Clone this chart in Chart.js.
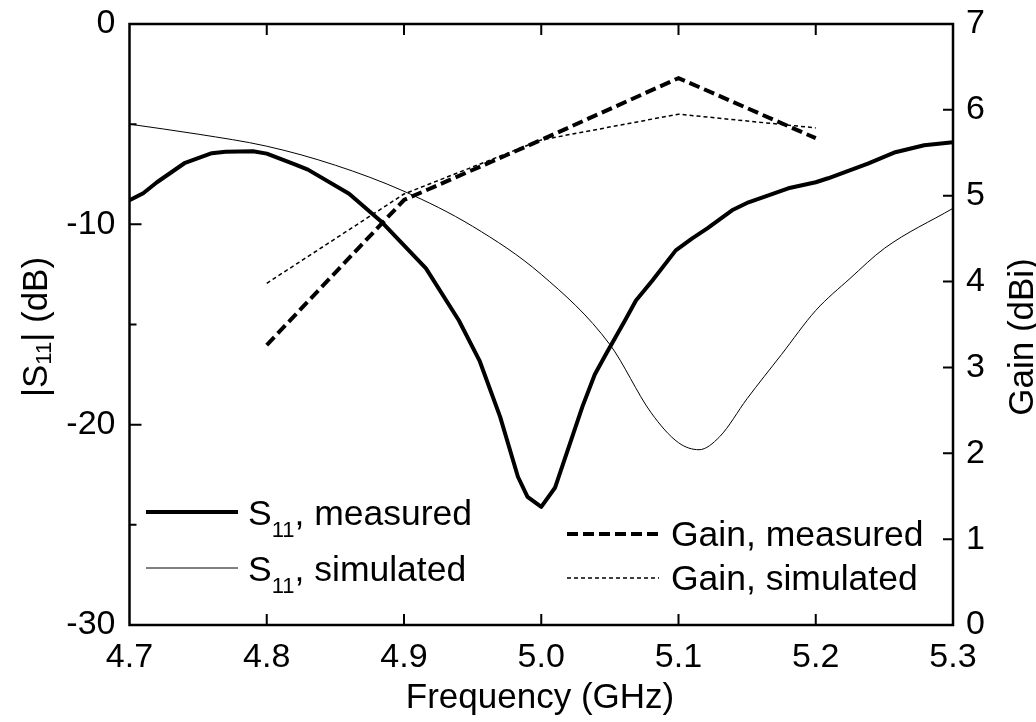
<!DOCTYPE html>
<html>
<head>
<meta charset="utf-8">
<script src="https://cdn.jsdelivr.net/npm/chart.js@4.4.0/dist/chart.umd.min.js"></script>
<style>
	html,body{margin:0;padding:0;background:#fff;}
	#wrap{width:1036px;height:722px;position:relative;}
</style>
</head>
<body>
<div id="wrap"><canvas id="chart" width="1036" height="722"></canvas></div>
<script>
// --- dados ---
const s11MeasFreq = [4.700,4.710,4.720,4.740,4.760,4.770,4.790,4.800,4.820,4.830,4.860,4.884,4.916,4.940,4.955,4.970,4.983,4.990,5.000,5.010,5.030,5.039,5.047,5.061,5.069,5.081,5.098,5.110,5.121,5.139,5.151,5.180,5.200,5.209,5.238,5.258,5.279,5.300];
const s11Meas     = [-8.8,-8.45,-7.9,-6.95,-6.45,-6.38,-6.35,-6.47,-7.0,-7.27,-8.47,-9.9,-12.2,-14.8,-16.8,-19.6,-22.6,-23.6,-24.1,-23.15,-19.1,-17.5,-16.5,-14.8,-13.8,-12.8,-11.3,-10.7,-10.2,-9.3,-8.9,-8.2,-7.9,-7.7,-6.97,-6.4,-6.05,-5.9];

const s11SimFreq = [4.70,4.75,4.80,4.85,4.90,4.95,5.00,5.05,5.08,5.10,5.115,5.13,5.15,5.175,5.20,5.225,5.25,5.30];
const s11Sim     = [-5.0,-5.5,-6.1,-7.05,-8.35,-10.1,-12.5,-16.0,-19.4,-20.9,-21.25,-20.6,-18.7,-16.5,-14.3,-12.7,-11.2,-9.2];

const gainFreq = [4.8,4.9,5.0,5.1,5.2];
const gainMeas = [3.26,4.95,5.65,6.37,5.67];
const gainSim  = [3.98,5.02,5.65,5.95,5.79];

const xTicks = [4.7,4.8,4.9,5.0,5.1,5.2,5.3];
const leftMinor = [-5,-15,-25];

const FONT = '"Liberation Sans", Arial, Helvetica, sans-serif';

function pts(xs, ys){ return xs.map((x,i)=>({x, y: ys[i]})); }

// texto com subscrito: partes [{t, sub}]
function drawRich(ctx, parts, x, y, size, subDy){
	let cx = x;
	for (const p of parts){
		if (p.sub){
			ctx.font = Math.round(size*0.62)+'px '+FONT;
			ctx.fillText(p.t, cx, y+subDy);
		} else {
			ctx.font = size+'px '+FONT;
			ctx.fillText(p.t, cx, y);
		}
		cx += ctx.measureText(p.t).width;
	}
	return cx - x;
}
function richWidth(ctx, parts, size){
	let w=0;
	for (const p of parts){
		ctx.font = (p.sub ? Math.round(size*0.62) : size)+'px '+FONT;
		w += ctx.measureText(p.t).width;
	}
	return w;
}

const framePlugin = {
	id: 'frame',
	afterDraw(chart){
		const {ctx, chartArea:{left,right,top,bottom}} = chart;
		const sx = chart.scales.x, yl = chart.scales.y, yr = chart.scales.y2;
		ctx.save();
		ctx.strokeStyle = '#000';
		ctx.lineWidth = 2.5;
		ctx.strokeRect(left, top, right-left, bottom-top);
		ctx.lineWidth = 2;
		ctx.beginPath();
		for (const v of xTicks.slice(1,-1)){
			const px = sx.getPixelForValue(v);
			ctx.moveTo(px, bottom); ctx.lineTo(px, bottom-11);
			ctx.moveTo(px, top); ctx.lineTo(px, top+11);
		}
		for (const v of [-10,-20]){
			const py = yl.getPixelForValue(v);
			ctx.moveTo(left, py); ctx.lineTo(left+12, py);
		}
		for (const v of leftMinor){
			const py = yl.getPixelForValue(v);
			ctx.moveTo(left, py); ctx.lineTo(left+7, py);
		}
		for (let v=1; v<=6; v++){
			const py = yr.getPixelForValue(v);
			ctx.moveTo(right, py); ctx.lineTo(right-10, py);
		}
		ctx.stroke();

		// títulos dos eixos
		ctx.fillStyle = '#000';
		ctx.textBaseline = 'alphabetic';
		ctx.textAlign = 'left';
		ctx.font = '35px '+FONT;
		const xt = 'Frequency (GHz)';
		const xw = ctx.measureText(xt).width;
		ctx.fillText(xt, 540 - xw/2, 708);

		const ylParts = [{t:'|S'},{t:'11',sub:true},{t:'| (dB)'}];
		const ylw = richWidth(ctx, ylParts, 35);
		ctx.save();
		ctx.translate(47, 327);
		ctx.rotate(-Math.PI/2);
		drawRich(ctx, ylParts, -ylw/2, 0, 35, 4);
		ctx.restore();

		ctx.save();
		ctx.font = '35px '+FONT;
		const yrt = 'Gain (dBi)';
		const yrw = ctx.measureText(yrt).width;
		ctx.translate(1033, 337);
		ctx.rotate(-Math.PI/2);
		ctx.fillText(yrt, -yrw/2, 0);
		ctx.restore();

		// legendas
		const ds = chart.data.datasets;
		const entries = [
			{ds: ds[0], x0:146, x1:238, y:512, tx:248, ty:525, parts:[{t:'S'},{t:'11',sub:true},{t:', measured'}]},
			{ds: ds[1], x0:146, x1:238, y:568, tx:248, ty:581, parts:[{t:'S'},{t:'11',sub:true},{t:', simulated'}]},
			{ds: ds[2], x0:567, x1:659, y:534, tx:671, ty:546, parts:[{t:ds[2].label}]},
			{ds: ds[3], x0:567, x1:659, y:578, tx:671, ty:590, parts:[{t:ds[3].label}]}
		];
		for (const e of entries){
			ctx.save();
			ctx.strokeStyle = '#000';
			ctx.lineWidth = e.ds.borderWidth;
			ctx.setLineDash(e.ds.borderDash || []);
			ctx.beginPath(); ctx.moveTo(e.x0, e.y); ctx.lineTo(e.x1, e.y); ctx.stroke();
			ctx.restore();
			drawRich(ctx, e.parts, e.tx, e.ty, 35.5, 12);
		}
		ctx.restore();
	}
};

new Chart(document.getElementById('chart').getContext('2d'), {
	type: 'line',
	data: {
		datasets: [
			{ label:'S11, measured', data: pts(s11MeasFreq, s11Meas), yAxisID:'y', borderColor:'#000', borderWidth:4, pointRadius:0, tension:0, borderJoinStyle:'round' },
			{ label:'S11, simulated', data: pts(s11SimFreq, s11Sim), yAxisID:'y', borderColor:'#000', borderWidth:1, pointRadius:0, cubicInterpolationMode:'monotone' },
			{ label:'Gain, measured', data: pts(gainFreq, gainMeas), yAxisID:'y2', borderColor:'#000', borderWidth:4, borderDash:[11,5], pointRadius:0, tension:0 },
			{ label:'Gain, simulated', data: pts(gainFreq, gainSim), yAxisID:'y2', borderColor:'#000', borderWidth:1.5, borderDash:[4,3], pointRadius:0, tension:0 }
		]
	},
	options: {
		responsive:false, animation:false,
		layout:{ padding:{ top:24, left:0, right:0, bottom:0 } },
		plugins:{ legend:{display:false}, tooltip:{enabled:false} },
		scales:{
			x:{ type:'linear', min:4.7, max:5.3,
				afterBuildTicks(s){ s.ticks = xTicks.map(v=>({value:v})); },
				afterFit(s){ s.height = 97; s.paddingLeft = 0; s.paddingRight = 0; },
				grid:{display:false, drawTicks:false}, border:{display:false},
				ticks:{ color:'#000', padding:12, maxRotation:0, font:{family:FONT, size:34}, callback:v=>Number(v).toFixed(1) } },
			y:{ position:'left', min:-30, max:0,
				afterFit(s){ s.width = 129.5; s.paddingTop = 0; s.paddingBottom = 0; },
				grid:{display:false, drawTicks:false}, border:{display:false},
				ticks:{ color:'#000', stepSize:10, padding:14, font:{family:FONT, size:34} } },
			y2:{ position:'right', min:0, max:7,
				afterFit(s){ s.width = 83; s.paddingTop = 0; s.paddingBottom = 0; },
				grid:{display:false, drawTicks:false}, border:{display:false},
				ticks:{ color:'#000', stepSize:1, padding:13, font:{family:FONT, size:34} } }
		}
	},
	plugins:[framePlugin]
});
</script>
</body>
</html>
